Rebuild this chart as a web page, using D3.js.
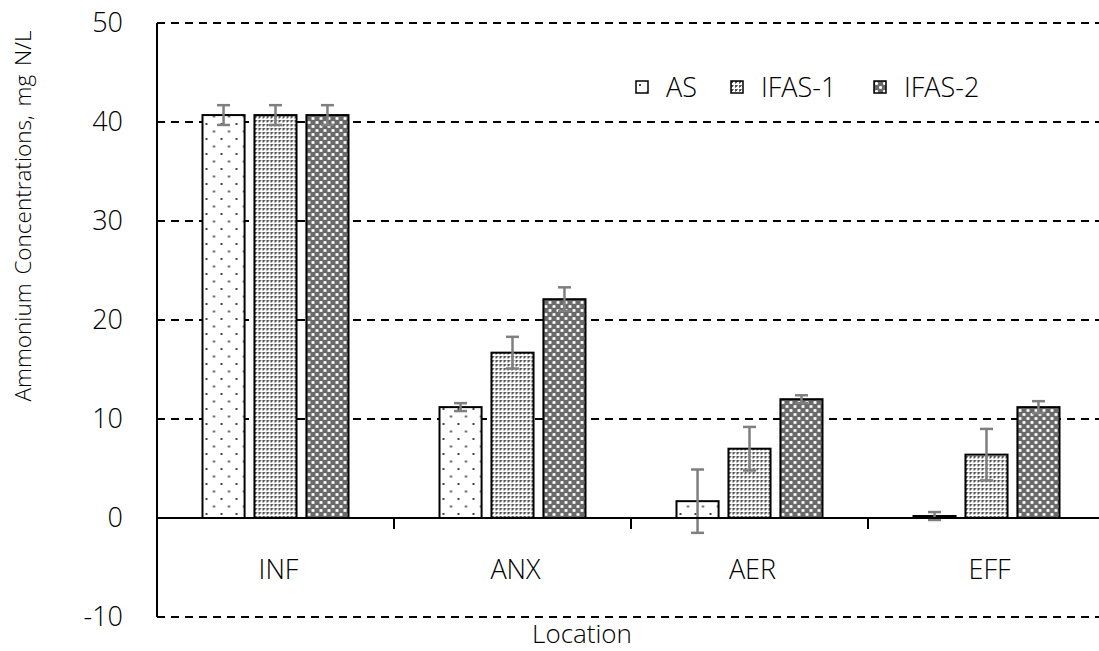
<!DOCTYPE html>
<html lang="en">
<head>
    <meta charset="UTF-8">
    <title>Ammonium Concentrations</title>
    <script src="https://d3js.org/d3.v7.min.js"></script>
    <style>
        body { margin: 0; background: #fff; }
        svg { display: block; }
        text { font-family: "Open Sans", "Noto Sans", sans-serif; font-weight: 300; fill: #000; }
    </style>
</head>
<body>
<div id="chart"></div>
<script>
// data
const locations = ["INF", "ANX", "AER", "EFF"];
const series = ["AS", "IFAS-1", "IFAS-2"];
const asValues    = [40.7, 11.2, 1.7, 0.2];
const ifas1Values = [40.7, 16.7, 7.0, 6.4];
const ifas2Values = [40.7, 22.1, 12.0, 11.2];
const asErr    = [1.0, 0.4, 3.2, 0.4];
const ifas1Err = [1.0, 1.6, 2.2, 2.6];
const ifas2Err = [1.0, 1.2, 0.4, 0.6];
const yTicks = [-10, 0, 10, 20, 30, 40, 50];

const values = [asValues, ifas1Values, ifas2Values];
const errors = [asErr, ifas1Err, ifas2Err];

const W = 1099, H = 651;
const plotLeft = 157, plotRight = 1105, plotTop = 23, plotBottom = 617;

const svg = d3.select("#chart").append("svg")
    .attr("width", W).attr("height", H);

// patterns
const defs = svg.append("defs");

// AS: sparse dots
const pAS = defs.append("pattern").attr("id", "p0")
    .attr("patternUnits", "userSpaceOnUse").attr("width", 15).attr("height", 15);
pAS.append("rect").attr("width", 15).attr("height", 15).attr("fill", "#fff");
pAS.append("rect").attr("x", 3).attr("y", 3).attr("width", 2).attr("height", 2).attr("fill", "#444");
pAS.append("rect").attr("x", 10.5).attr("y", 10.5).attr("width", 2).attr("height", 2).attr("fill", "#444");

// IFAS-1: dense dots
const p1 = defs.append("pattern").attr("id", "p1")
    .attr("patternUnits", "userSpaceOnUse").attr("width", 4).attr("height", 4);
p1.append("rect").attr("width", 4).attr("height", 4).attr("fill", "#fff");
p1.append("rect").attr("width", 2).attr("height", 2).attr("fill", "#555");
p1.append("rect").attr("x", 2).attr("width", 1).attr("height", 1).attr("fill", "#888");
p1.append("rect").attr("y", 2).attr("width", 1).attr("height", 1).attr("fill", "#888");

// IFAS-2: crosshatch
const p2 = defs.append("pattern").attr("id", "p2")
    .attr("patternUnits", "userSpaceOnUse").attr("width", 8).attr("height", 8);
p2.append("rect").attr("width", 8).attr("height", 8).attr("fill", "#6a6a6a");
[[1, 1], [5, 5]].forEach(([x, y]) => {
    p2.append("rect").attr("x", x).attr("y", y + 1).attr("width", 3).attr("height", 1).attr("fill", "#fff");
    p2.append("rect").attr("x", x + 1).attr("y", y).attr("width", 1).attr("height", 3).attr("fill", "#fff");
    p2.append("rect").attr("x", x).attr("y", y).attr("width", 1).attr("height", 1).attr("fill", "#ccc");
    p2.append("rect").attr("x", x + 2).attr("y", y).attr("width", 1).attr("height", 1).attr("fill", "#ccc");
    p2.append("rect").attr("x", x).attr("y", y + 2).attr("width", 1).attr("height", 1).attr("fill", "#ccc");
    p2.append("rect").attr("x", x + 2).attr("y", y + 2).attr("width", 1).attr("height", 1).attr("fill", "#ccc");
});

// scales
const y = d3.scaleLinear().domain([-10, 50]).range([plotBottom, plotTop]);
const x0 = d3.scaleBand().domain(locations).range([plotLeft, plotRight]);
const groupW = 146;
const x1 = d3.scaleBand().domain(series).range([0, groupW]).paddingInner(0.19);
const groupOff = (x0.bandwidth() - groupW) / 2;

// gridlines (dashed)
svg.append("g").selectAll("line")
    .data(yTicks.filter(d => d !== 0))
    .enter().append("line")
    .attr("x1", plotLeft).attr("x2", plotRight)
    .attr("y1", d => y(d)).attr("y2", d => y(d))
    .attr("stroke", "#000").attr("stroke-width", 2)
    .attr("stroke-dasharray", "8,6");

// y tick labels
svg.append("g").selectAll("text")
    .data(yTicks)
    .enter().append("text")
    .attr("x", 123).attr("y", d => y(d) + 9)
    .attr("text-anchor", "end")
    .attr("font-size", 27)
    .text(d => d);

// bars
const groups = svg.append("g").selectAll("g")
    .data(locations)
    .enter().append("g")
    .attr("transform", d => `translate(${x0(d) + groupOff},0)`);

groups.selectAll("rect")
    .data((d, i) => series.map((s, j) => ({ s, j, v: values[j][i], e: errors[j][i] })))
    .enter().append("rect")
    .attr("x", d => x1(d.s))
    .attr("y", d => y(Math.max(0, d.v)))
    .attr("width", x1.bandwidth())
    .attr("height", d => Math.abs(y(d.v) - y(0)))
    .attr("fill", d => `url(#p${d.j})`)
    .attr("stroke", "#000").attr("stroke-width", 2);

// error bars
const eb = groups.selectAll("g.err")
    .data((d, i) => series.map((s, j) => ({ s, j, v: values[j][i], e: errors[j][i] })))
    .enter().append("g").attr("class", "err")
    .attr("stroke", "#7f7f7f").attr("stroke-width", 2.5);
eb.append("line")
    .attr("x1", d => x1(d.s) + x1.bandwidth() / 2)
    .attr("x2", d => x1(d.s) + x1.bandwidth() / 2)
    .attr("y1", d => y(d.v + d.e)).attr("y2", d => y(d.v - d.e));
[1, -1].forEach(sgn => {
    eb.append("line")
        .attr("x1", d => x1(d.s) + x1.bandwidth() / 2 - 6.5)
        .attr("x2", d => x1(d.s) + x1.bandwidth() / 2 + 6.5)
        .attr("y1", d => y(d.v + sgn * d.e)).attr("y2", d => y(d.v + sgn * d.e));
});

// zero line and category ticks
svg.append("line")
    .attr("x1", plotLeft).attr("x2", plotRight)
    .attr("y1", y(0)).attr("y2", y(0))
    .attr("stroke", "#000").attr("stroke-width", 2);
svg.append("g").selectAll("line")
    .data(locations.slice(1))
    .enter().append("line")
    .attr("x1", d => x0(d)).attr("x2", d => x0(d))
    .attr("y1", y(0)).attr("y2", y(0) + 11)
    .attr("stroke", "#000").attr("stroke-width", 2);

// y axis line
svg.append("line")
    .attr("x1", plotLeft).attr("x2", plotLeft)
    .attr("y1", plotTop).attr("y2", plotBottom)
    .attr("stroke", "#000").attr("stroke-width", 2);

// category labels
svg.append("g").selectAll("text")
    .data(locations)
    .enter().append("text")
    .attr("x", d => x0(d) + x0.bandwidth() / 2 + 3)
    .attr("y", 579)
    .attr("text-anchor", "middle")
    .attr("font-size", 27)
    .text(d => d);

// axis titles
svg.append("text")
    .attr("x", 582).attr("y", 643)
    .attr("text-anchor", "middle")
    .attr("font-size", 26)
    .text("Location");

svg.append("text")
    .attr("transform", "translate(31,216) rotate(-90)")
    .attr("text-anchor", "middle")
    .attr("font-size", 22.5)
    .attr("word-spacing", 3)
    .text("Ammonium Concentrations, mg N/L");

// legend
const legendX = [636, 731, 874];
const lg = svg.append("g").selectAll("g")
    .data(series)
    .enter().append("g")
    .attr("transform", (d, i) => `translate(${legendX[i]},81)`);
lg.append("rect")
    .attr("width", 12).attr("height", 12)
    .attr("fill", (d, i) => `url(#p${i})`)
    .attr("stroke", "#000").attr("stroke-width", 1.5);
lg.append("text")
    .attr("x", 30).attr("y", 16)
    .attr("font-size", 27)
    .text(d => d);
</script>
</body>
</html>
